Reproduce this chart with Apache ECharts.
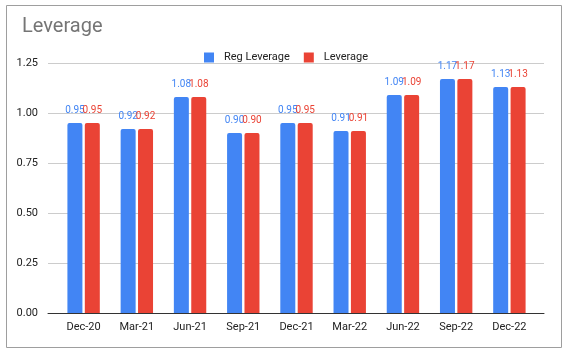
<!DOCTYPE html>
<html>
<head>
<meta charset="utf-8">
<script src="https://cdn.jsdelivr.net/npm/echarts@6/dist/echarts.min.js"></script>
<style>
  html, body { margin: 0; padding: 0; background: #fff; }
  #chart { width: 565px; height: 354px; }
</style>
</head>
<body>
<div id="chart"></div>
<script>
// data
const quarters = ['Dec-20', 'Mar-21', 'Jun-21', 'Sep-21', 'Dec-21', 'Mar-22', 'Jun-22', 'Sep-22', 'Dec-22']
const regLeverage = [0.95, 0.92, 1.08, 0.90, 0.95, 0.91, 1.09, 1.17, 1.13]
const leverage = [0.95, 0.92, 1.08, 0.90, 0.95, 0.91, 1.09, 1.17, 1.13]
const yTicks = [0, 0.25, 0.5, 0.75, 1, 1.25]

const BLUE = '#4285f4'
const RED = '#ea4335'
const FONT = 'Roboto, Arial, sans-serif'

const chart = echarts.init(document.getElementById('chart'), null, {renderer: 'canvas'})

function barSeries (name, data, color) {
    return {
        name: name,
        type: 'bar',
        xAxisIndex: 1,
        yAxisIndex: 1,
        data: data,
        barWidth: 15,
        barGap: '16%',
        itemStyle: { color: color, borderRadius: [2, 2, 0, 0] },
        label: {
            show: true,
            position: 'top',
            distance: 8,
            color: color,
            fontSize: 10,
            fontFamily: FONT,
            formatter: p => p.value.toFixed(2)
        }
    }
}

chart.setOption({
    animation: false,
    textStyle: { fontFamily: FONT },
    title: {
        text: 'Leverage',
        left: 17,
        top: 12,
        textStyle: { color: '#757575', fontSize: 20, fontWeight: 'normal', fontFamily: FONT }
    },
    legend: {
        left: 199,
        top: 47,
        itemWidth: 10,
        itemHeight: 10,
        itemGap: 14,
        icon: 'rect',
        textStyle: { color: '#222', fontSize: 11, fontFamily: FONT, padding: [0, 0, 0, 5] },
        data: ['Reg Leverage', 'Leverage']
    },
    graphic: [{
        type: 'rect',
        shape: { x: 6.5, y: 5.5, width: 555, height: 342 },
        style: { fill: 'none', stroke: '#9e9e9e', lineWidth: 1 },
        silent: true
    }],
    grid: [
        { left: 48, right: 21, top: 63, bottom: 41 },  // gridlines + axis line
        { left: 57, right: 29, top: 63, bottom: 41 }   // bars
    ],
    xAxis: [
        {
            gridIndex: 0,
            type: 'value',
            min: 0,
            max: 1,
            axisLine: { show: true, lineStyle: { color: '#333', width: 1 } },
            axisTick: { show: false },
            axisLabel: { show: false },
            splitLine: { show: false }
        },
        {
            gridIndex: 1,
            type: 'category',
            data: quarters,
            axisLine: { show: false },
            axisTick: { show: false },
            axisLabel: { color: '#222', fontSize: 11, margin: 9, fontFamily: FONT }
        }
    ],
    yAxis: [
        {
            gridIndex: 0,
            type: 'value',
            min: yTicks[0],
            max: yTicks[yTicks.length - 1],
            interval: 0.25,
            axisLine: { show: false },
            axisTick: { show: false },
            axisLabel: {
                color: '#222',
                fontSize: 11,
                margin: 10,
                fontFamily: FONT,
                formatter: v => v.toFixed(2)
            },
            splitLine: { lineStyle: { color: '#cccccc', width: 1 } }
        },
        {
            gridIndex: 1,
            type: 'value',
            min: yTicks[0],
            max: yTicks[yTicks.length - 1],
            show: false
        }
    ],
    series: [
        barSeries('Reg Leverage', regLeverage, BLUE),
        barSeries('Leverage', leverage, RED)
    ]
})
</script>
</body>
</html>
